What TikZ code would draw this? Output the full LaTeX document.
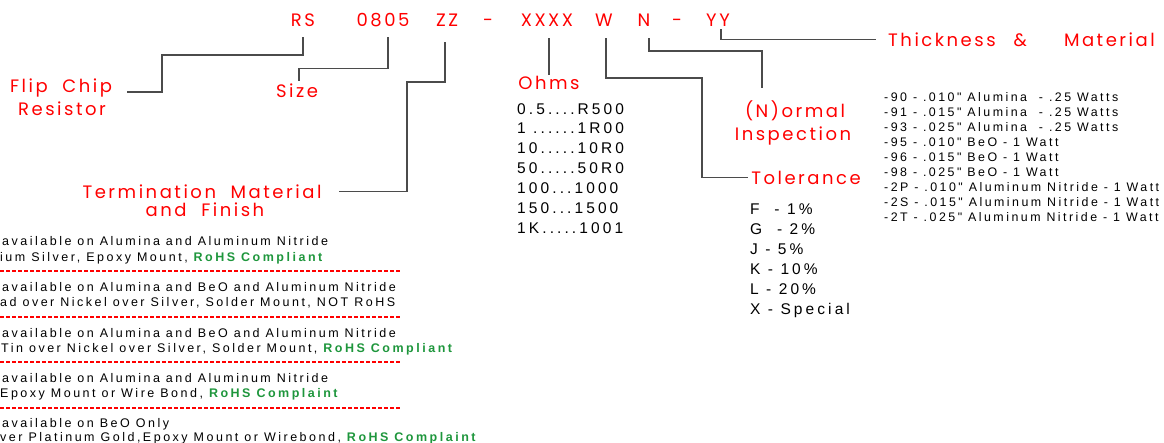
\documentclass[tikz,border=0pt]{standalone}
\usepackage{fontspec}
\setmainfont{Liberation Sans}
\newfontfamily\redfont[LetterSpace=14]{Poppins}
\newfontfamily\spacedfont[LetterSpace=20]{Liberation Sans}
\usetikzlibrary{positioning}
\definecolor{leadgray}{RGB}{75,75,75}
\definecolor{rohsgreen}{RGB}{30,150,60}
\tikzset{
	redlabel/.style={text=red, font=\redfont\fontsize{18}{18}\selectfont, inner sep=0pt, anchor=base},
	listtext/.style={font=\spacedfont\fontsize{15.5}{19.9}\selectfont, inner sep=0pt, align=left, anchor=north west},
	thicktext/.style={font=\spacedfont\fontsize{12.4}{15}\selectfont, inner sep=0pt, align=left, anchor=north west},
	notetext/.style={font=\spacedfont\fontsize{12.5}{12.5}\selectfont, inner sep=0pt, anchor=base west},
	lead/.style={draw=leadgray, line width=1.2pt},
	cut/.style={draw=red, dash pattern=on 4pt off 2pt, line width=1.2pt}
}
\newcommand{\rohs}[1]{\textcolor{rohsgreen}{\bfseries #1}}
\begin{document}
\begin{tikzpicture}[x=1pt,y=-1pt]
	\useasboundingbox (0,0) rectangle (1164,442);
	\clip (0,0) rectangle (1164,442);
	% part number
	\node[redlabel] (rs) at (303,26) {RS};
	\node[redlabel] (sizecode) at (383,26) {0805};
	\node[redlabel] (termcode) at (447,26) {ZZ};
	\node[redlabel] (dasha) at (488,26) {-};
	\node[redlabel] (ohmcode) at (547,26) {XXXX};
	\node[redlabel] (tolcode) at (604,26) {W};
	\node[redlabel] (inspcode) at (644,26) {N};
	\node[redlabel] (dashb) at (677,26) {-};
	\node[redlabel] (thickcode) at (718,26) {YY};
	% captions
	\node[redlabel] (flip) at (61,92) {Flip\ \ Chip};
	\node[redlabel] (resistor) at (62,115) {Resistor};
	\node[redlabel] (size) at (297,97) {Size};
	\node[redlabel] (termination) at (202,198) {Termination\ \ Material};
	\node[redlabel] (finish) at (205,216) {and\ \ Finish};
	\node[redlabel] (ohms) at (549,89) {Ohms};
	\node[redlabel] (normal) at (795,117) {(N)ormal};
	\node[redlabel] (inspection) at (793,140) {Inspection};
	\node[redlabel] (tolerance) at (806,184) {Tolerance};
	\node[redlabel, anchor=base west] (thickness) at (888,46) {Thickness\hspace{18pt}\&\hspace{37pt}Material};
	% leaders
	\draw[lead] ([yshift=-11pt]rs.base) |- (162,55) |- ([xshift=15pt]flip.base east);
	\draw[lead] ([xshift=5pt,yshift=-11pt]sizecode.base) |- ([xshift=2pt,yshift=15pt]size.north) -- ([xshift=2pt,yshift=2pt]size.north);
	\draw[lead] ([xshift=-2pt,yshift=-16pt]termcode.base) |- (407,82) |- ([xshift=17pt]termination.east);
	\draw[lead] ([xshift=2pt,yshift=-12pt]ohmcode.base) -- (ohms.north);
	\draw[lead] ([xshift=2pt,yshift=-12pt]tolcode.base) |- (702,78) |- ([xshift=-3pt]tolerance.west);
	\draw[lead] ([xshift=5pt,yshift=-12pt]inspcode.base) |- ([xshift=-33pt,yshift=49pt]normal.north) -- ([xshift=-33pt,yshift=12pt]normal.north);
	\draw[lead] ([xshift=3pt,yshift=-3pt]thickcode.base) |- ([xshift=-12pt]thickness.west);
	% value lists
	\node[listtext] (ohmlist) at (517,103) {0.5....R500\\1 ......1R00\\10.....10R0\\50.....50R0\\100...1000\\150...1500\\1K.....1001};
	\node[listtext] (tollist) at (750,204) {F\ \ - 1\%\\G\ \ - 2\%\\J - 5\%\\K - 10\%\\L - 20\%\\X - Special};
	\node[thicktext] (thicklist) at (884,92) {-90 - .010" Alumina\ \ - .25 Watts\\-91 - .015" Alumina\ \ - .25 Watts\\-93 - .025" Alumina\ \ - .25 Watts\\-95 - .010" BeO - 1 Watt\\-96 - .015" BeO - 1 Watt\\-98 - .025" BeO - 1 Watt\\-2P - .010" Aluminum Nitride - 1 Watt\\-2S - .015" Aluminum Nitride - 1 Watt\\-2T - .025" Aluminum Nitride - 1 Watt};
	% termination notes
	\node[notetext] (notea) at (2,245) {available on Alumina and Aluminum Nitride};
	\node[notetext] (noteb) at (0,261) {ium Silver, Epoxy Mount, \rohs{RoHS Compliant}};
	\node[notetext] (notec) at (2,291) {available on Alumina and BeO and Aluminum Nitride};
	\node[notetext] (noted) at (0,306) {ad over Nickel over Silver, Solder Mount, NOT RoHS};
	\node[notetext] (notee) at (2,337) {available on Alumina and BeO and Aluminum Nitride};
	\node[notetext] (notef) at (1,352) {Tin over Nickel over Silver, Solder Mount, \rohs{RoHS Compliant}};
	\node[notetext] (noteg) at (2,382) {available on Alumina and Aluminum Nitride};
	\node[notetext] (noteh) at (0,397) {Epoxy Mount or Wire Bond, \rohs{RoHS Complaint}};
	\node[notetext] (notei) at (2,427) {available on BeO Only};
	\node[notetext] (notej) at (0,441) {ver Platinum Gold,Epoxy Mount or Wirebond, \rohs{RoHS Complaint}};
	\draw[cut] (0,271) -- (400,271);
	\draw[cut] (0,317) -- (400,317);
	\draw[cut] (0,362) -- (400,362);
	\draw[cut] (0,408) -- (400,408);
\end{tikzpicture}
\end{document}
